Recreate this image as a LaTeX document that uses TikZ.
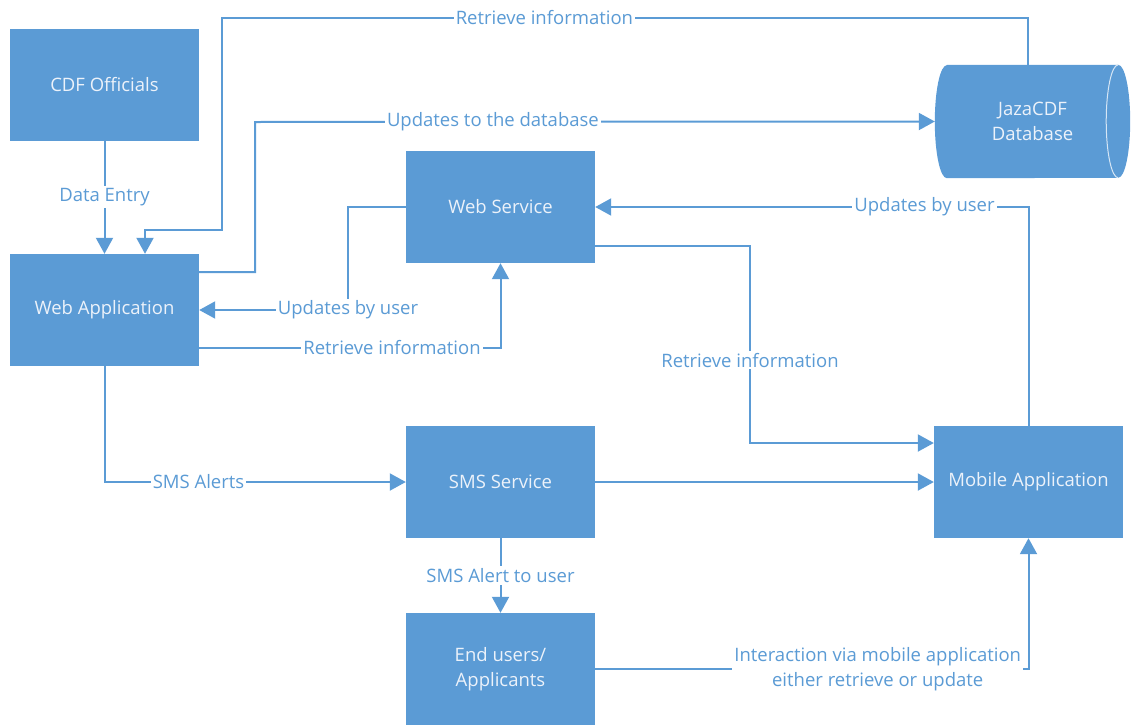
\documentclass[tikz,border=0pt]{standalone}
\usepackage{fontspec}
\setmainfont{Open Sans}
\usetikzlibrary{arrows.meta,backgrounds}
\definecolor{boxblue}{RGB}{91,155,213}
\definecolor{boxtext}{RGB}{236,242,250}
\definecolor{lineblue}{RGB}{91,155,213}
\begin{document}
\begin{tikzpicture}[x=1pt,y=1pt,>={Triangle[length=16pt,width=17pt]},
    font=\fontsize{18.5}{25}\selectfont,
    box/.style={fill=boxblue,text=boxtext,minimum width=189pt,minimum height=112pt,inner sep=0pt,align=center},
    conn/.style={draw=lineblue,line width=2pt},
    lbl/.style={fill=white,text=lineblue,inner sep=2pt,align=center}]
    \useasboundingbox (0,0) rectangle (1131,-726);
    % boxes
    \node[box](cdf) at (104.5,-84.5){CDF Officials};
    \node[box](wa) at (104.5,-310){Web Application};
    \node[box](ws) at (500.5,-207){Web Service};
    \node[box](sms) at (500.5,-482){SMS Service};
    \node[box](eu) at (500.5,-669){End users/\\Applicants};
    \node[box](mob) at (1028.5,-482){Mobile Application};
    \node[box,fill=none,minimum width=195pt,minimum height=113pt](db) at (1032.5,-121.5){JazaCDF\\Database};
    \begin{scope}[on background layer]
        \fill[boxblue]([xshift=12pt]db.north west)--([xshift=-12pt]db.north east)
            arc[start angle=90,end angle=-90,x radius=12pt,y radius=56.5pt]
            --([xshift=12pt]db.south west)
            arc[start angle=270,end angle=90,x radius=12pt,y radius=56.5pt]--cycle;
        \draw[white!75!boxblue,line width=1pt]([xshift=-12pt]db.north east)
            arc[start angle=90,end angle=270,x radius=12pt,y radius=56.5pt];
    \end{scope}
    % connectors
    \draw[conn,->]([xshift=-4.5pt]db.north)|-node[lbl,pos=0.8]{Retrieve information}(222,-18)
        --(222,-230)-|([xshift=40.5pt]wa.north);
    \draw[conn,->](cdf)--node[lbl]{Data Entry}(wa);
    \draw[conn,->]([yshift=38pt]wa.east)-|(255,-122)--node[lbl,pos=0.35]{Updates to the database}(db.west);
    \draw[conn,->](ws.west)-|(348,-310)node[lbl]{Updates by user}--(wa.east);
    \draw[conn,->]([yshift=-38pt]wa.east)-|node[lbl,pos=0.32]{Retrieve information}(ws.south);
    \draw[conn,->]([yshift=-39pt]ws.east)-|node[lbl,pos=0.79]{Retrieve information}(750,-443)
        --([yshift=39pt]mob.west);
    \draw[conn,->](mob.north)|-node[lbl,pos=0.62]{Updates by user}(ws.east);
    \draw[conn,->](wa.south)|-node[lbl,pos=0.656]{SMS Alerts}(sms.west);
    \draw[conn,->](sms)--(mob);
    \draw[conn,->](sms)--node[lbl]{SMS Alert to user}(eu);
    \draw[conn,->](eu.east)-|node[lbl,pos=0.326]{Interaction via mobile application\\either retrieve or update}(mob.south);
\end{tikzpicture}
\end{document}
